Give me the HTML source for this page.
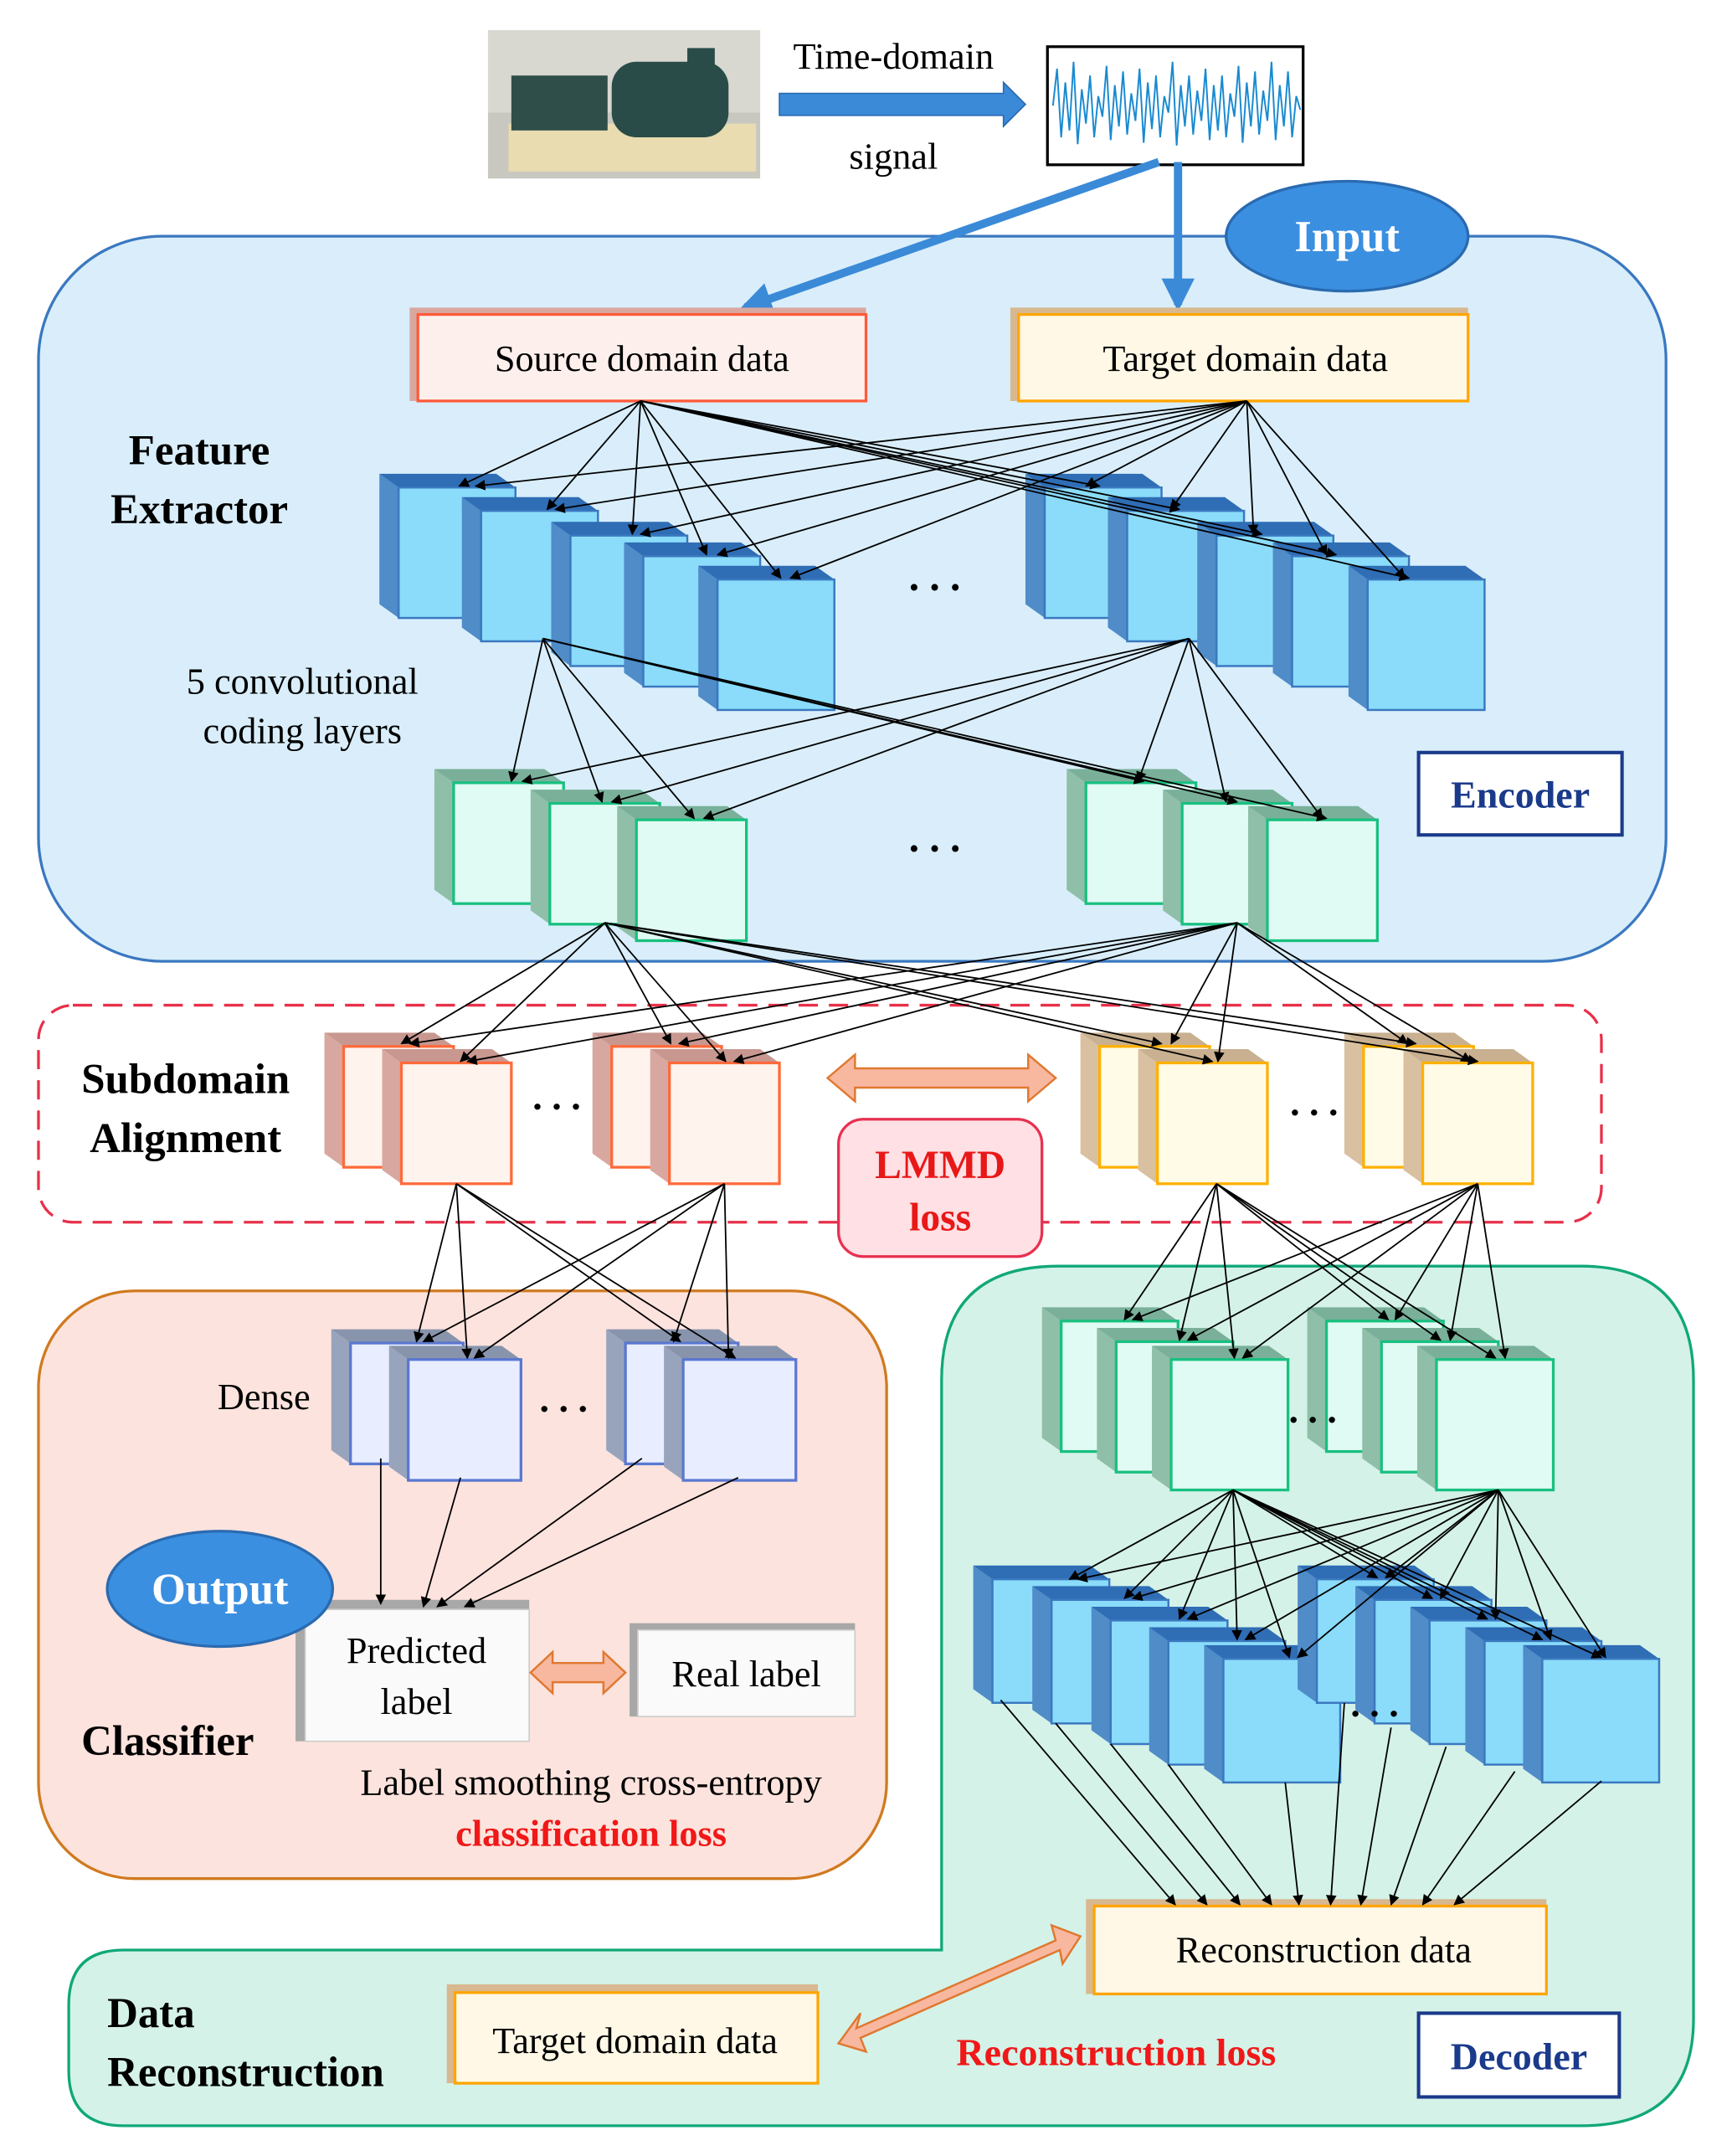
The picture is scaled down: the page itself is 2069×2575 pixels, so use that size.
<!DOCTYPE html>
<html><head><meta charset="utf-8">
<style>
html,body{margin:0;padding:0;background:#fff;}
svg{display:block;}
text{font-family:"Liberation Serif",serif;}
.b{font-weight:bold;}
</style></head>
<body>
<svg width="2069" height="2575" viewBox="0 0 1260 1570" preserveAspectRatio="none" xmlns="http://www.w3.org/2000/svg">
<defs>
<marker id="ah" viewBox="0 0 10 10" refX="9" refY="5" markerWidth="7" markerHeight="7" orient="auto"><path d="M0,0L10,5L0,10z" fill="#000"/></marker>
<marker id="bh" viewBox="0 0 10 10" refX="8" refY="5" markerWidth="4" markerHeight="4" orient="auto"><path d="M0,0L10,5L0,10z" fill="#3a8ad8"/></marker>
<symbol id="cb" overflow="visible"><polygon points="-14,-10 0,0 0,95 -14,85" fill="#4f8cc8"/><polygon points="-14,-10 71,-10 85,0 0,0" fill="#2f6db5"/><rect x="0" y="0" width="85" height="95" fill="#8adcfa" stroke="#3a78c0" stroke-width="1.5"/></symbol>
<symbol id="cb2" overflow="visible"><polygon points="-14,-10 0,0 0,90 -14,80" fill="#4f8cc8"/><polygon points="-14,-10 71,-10 85,0 0,0" fill="#2f6db5"/><rect x="0" y="0" width="85" height="90" fill="#8adcfa" stroke="#3a78c0" stroke-width="1.5"/></symbol>
<symbol id="cg" overflow="visible"><polygon points="-14,-10 0,0 0,88 -14,78" fill="#8fbfa8"/><polygon points="-14,-10 66,-10 80,0 0,0" fill="#7ab09a"/><rect x="0" y="0" width="80" height="88" fill="#e0fbf3" stroke="#18c080" stroke-width="2"/></symbol>
<symbol id="cg2" overflow="visible"><polygon points="-14,-10 0,0 0,95 -14,85" fill="#8fbfa8"/><polygon points="-14,-10 71,-10 85,0 0,0" fill="#7ab09a"/><rect x="0" y="0" width="85" height="95" fill="#e0fbf3" stroke="#18c080" stroke-width="2"/></symbol>
<symbol id="co" overflow="visible"><polygon points="-14,-10 0,0 0,88 -14,78" fill="#d8a8a0"/><polygon points="-14,-10 66,-10 80,0 0,0" fill="#c89890"/><rect x="0" y="0" width="80" height="88" fill="#fff3ee" stroke="#ff6a3a" stroke-width="2"/></symbol>
<symbol id="cy" overflow="visible"><polygon points="-14,-10 0,0 0,88 -14,78" fill="#d8c0a0"/><polygon points="-14,-10 66,-10 80,0 0,0" fill="#c8b090"/><rect x="0" y="0" width="80" height="88" fill="#fffbe6" stroke="#ffb000" stroke-width="2"/></symbol>
<symbol id="cd" overflow="visible"><polygon points="-14,-10 0,0 0,88 -14,78" fill="#98a4bc"/><polygon points="-14,-10 68,-10 82,0 0,0" fill="#8894ac"/><rect x="0" y="0" width="82" height="88" fill="#e8eeff" stroke="#5a78d0" stroke-width="2"/></symbol>
</defs>

<rect x="355" y="22" width="198" height="108" fill="#c8c8c0"/>
<rect x="355" y="22" width="198" height="60" fill="#d8d8d0"/>
<rect x="370" y="90" width="180" height="35" fill="#e8dcb0"/>
<rect x="372" y="55" width="70" height="40" fill="#2f4e4a"/>
<rect x="445" y="45" width="85" height="55" rx="18" fill="#2a4c48"/>
<rect x="500" y="35" width="20" height="15" fill="#2a4c48"/>
<text x="650" y="50" font-size="27" text-anchor="middle">Time-domain</text>
<text x="650" y="123" font-size="27" text-anchor="middle">signal</text>
<polygon points="567,68 730,68 730,60 746,76 730,92 730,84 567,84" fill="#3a8ad8" stroke="#2a6ab0" stroke-width="1"/>
<rect x="762" y="34" width="186" height="86" fill="#fff" stroke="#000" stroke-width="2"/>
<polyline fill="none" stroke="#1a8ad0" stroke-width="1.2" points="766,77 769,50 772,100 775,60 778,95 781,45 784,105 787,65 790,90 793,55 796,100 799,70 802,85 805,48 808,102 811,62 814,92 817,52 820,98 823,68 826,88 829,50 832,104 835,60 838,94 841,55 844,100 847,70 850,82 853,45 856,106 859,62 862,92 865,55 868,98 871,66 874,88 877,50 880,102 883,62 886,95 889,55 892,100 895,68 898,85 901,48 904,104 907,60 910,92 913,52 916,98 919,66 922,88 925,45 928,102 931,62 934,92 937,52 940,100 943,70 946,80"/>
<rect x="28" y="172" width="1184" height="528" rx="90" fill="#d9eefa" stroke="#3a78c0" stroke-width="2"/>
<line x1="843" y1="118" x2="542" y2="224" stroke="#3a8ad8" stroke-width="6" marker-end="url(#bh)"/>
<line x1="857" y1="118" x2="857" y2="222" stroke="#3a8ad8" stroke-width="6" marker-end="url(#bh)"/>
<ellipse cx="980" cy="172" rx="88" ry="40" fill="#3a8fe0" stroke="#2a6ab0" stroke-width="2"/>
<text x="980" y="183" font-size="32" text-anchor="middle" fill="#fff" class="b">Input</text>

<rect x="298" y="224" width="332" height="68" fill="#d8a8a0"/>
<rect x="304" y="229" width="326" height="63" fill="#fdf0ec" stroke="#ff5a3a" stroke-width="2"/>
<text x="467" y="270" font-size="27" text-anchor="middle">Source domain data</text>
<rect x="735" y="224" width="333" height="68" fill="#d8b890"/>
<rect x="741" y="229" width="327" height="63" fill="#fff8e6" stroke="#ffa500" stroke-width="2"/>
<text x="906" y="270" font-size="27" text-anchor="middle">Target  domain data</text>

<text x="145" y="338" font-size="31" text-anchor="middle" class="b">Feature</text>
<text x="145" y="381" font-size="31" text-anchor="middle" class="b">Extractor</text>
<text x="220" y="505" font-size="27" text-anchor="middle">5 convolutional</text>
<text x="220" y="541" font-size="27" text-anchor="middle">coding layers</text>

<use href="#cb" x="290" y="355"/><use href="#cb" x="350" y="372"/><use href="#cb" x="415" y="390"/><use href="#cb" x="468" y="405"/><use href="#cb" x="522" y="422"/>
<use href="#cb" x="760" y="355"/><use href="#cb" x="820" y="372"/><use href="#cb" x="885" y="390"/><use href="#cb" x="940" y="405"/><use href="#cb" x="995" y="422"/>
<text x="680" y="430" font-size="30" text-anchor="middle" class="b">. . .</text>
<use href="#cg" x="330" y="570"/><use href="#cg" x="400" y="585"/><use href="#cg" x="463" y="597"/>
<use href="#cg" x="790" y="570"/><use href="#cg" x="860" y="585"/><use href="#cg" x="922" y="597"/>
<text x="680" y="620" font-size="30" text-anchor="middle" class="b">. . .</text>
<rect x="1032" y="548" width="148" height="60" fill="#fff" stroke="#1a3a8a" stroke-width="2.5"/>
<text x="1106" y="588" font-size="28" text-anchor="middle" fill="#1a3a8a" class="b">Encoder</text>

<rect x="28" y="732" width="1137" height="158" rx="25" fill="none" stroke="#e8304a" stroke-width="2" stroke-dasharray="14,8"/>
<text x="135" y="796" font-size="31" text-anchor="middle" class="b">Subdomain</text>
<text x="135" y="839" font-size="31" text-anchor="middle" class="b">Alignment</text>
<use href="#co" x="250" y="762"/><use href="#co" x="292" y="774"/>
<use href="#co" x="445" y="762"/><use href="#co" x="487" y="774"/>
<use href="#cy" x="800" y="762"/><use href="#cy" x="842" y="774"/>
<use href="#cy" x="992" y="762"/><use href="#cy" x="1035" y="774"/>
<text x="405" y="808" font-size="28" text-anchor="middle" class="b">. . .</text>
<text x="956" y="812" font-size="28" text-anchor="middle" class="b">. . .</text>
<polygon points="602,785 622,768 622,778 748,778 748,768 768,785 748,802 748,792 622,792 622,802" fill="#f8b8a0" stroke="#e07830" stroke-width="1.5"/>
<rect x="610" y="815" width="148" height="100" rx="18" fill="#ffe0e4" stroke="#e83050" stroke-width="2"/>
<text x="684" y="858" font-size="29" text-anchor="middle" fill="#e81818" class="b">LMMD</text>
<text x="684" y="896" font-size="29" text-anchor="middle" fill="#e81818" class="b">loss</text>

<rect x="28" y="940" width="617" height="428" rx="70" fill="#fde3dd" stroke="#d07a20" stroke-width="2"/>
<use href="#cd" x="255" y="978"/><use href="#cd" x="297" y="990"/>
<use href="#cd" x="455" y="978"/><use href="#cd" x="497" y="990"/>
<text x="192" y="1026" font-size="27" text-anchor="middle">Dense</text>
<text x="410" y="1028" font-size="28" text-anchor="middle" class="b">. . .</text>
<rect x="215" y="1165" width="170" height="103" fill="#a8a8a8"/>
<rect x="222" y="1172" width="163" height="96" fill="#fafafa" stroke="#ccc"/>
<text x="303" y="1211" font-size="27" text-anchor="middle">Predicted</text>
<text x="303" y="1248" font-size="27" text-anchor="middle">label</text>
<ellipse cx="160" cy="1157" rx="82" ry="42" fill="#3a8fe0" stroke="#2a6ab0" stroke-width="2"/>
<text x="160" y="1168" font-size="32" text-anchor="middle" fill="#fff" class="b">Output</text>
<polygon points="386,1218 402,1203 402,1211 439,1211 439,1203 455,1218 439,1233 439,1225 402,1225 402,1233" fill="#f8b8a0" stroke="#e07830" stroke-width="1.5"/>
<rect x="458" y="1182" width="164" height="68" fill="#a8a8a8"/>
<rect x="464" y="1187" width="158" height="63" fill="#fafafa" stroke="#ccc"/>
<text x="543" y="1228" font-size="27" text-anchor="middle">Real label</text>
<text x="122" y="1278" font-size="31" text-anchor="middle" class="b">Classifier</text>
<text x="430" y="1307" font-size="27" text-anchor="middle">Label  smoothing cross-entropy</text>
<text x="430" y="1344" font-size="27" text-anchor="middle" fill="#f01818" class="b">classification loss</text>

<path d="M685,1420 L685,1005 Q685,922 770,922 L1150,922 Q1232,922 1232,1005 L1232,1470 Q1232,1548 1150,1548 L90,1548 Q50,1548 50,1508 L50,1460 Q50,1420 90,1420 Z" fill="#d4f2e8" stroke="#10a878" stroke-width="2"/>
<use href="#cg2" x="772" y="962"/><use href="#cg2" x="812" y="977"/><use href="#cg2" x="852" y="990"/>
<use href="#cg2" x="965" y="962"/><use href="#cg2" x="1005" y="977"/><use href="#cg2" x="1045" y="990"/>
<text x="955" y="1036" font-size="28" text-anchor="middle" class="b">. . .</text>
<use href="#cb2" x="722" y="1150"/><use href="#cb2" x="765" y="1165"/><use href="#cb2" x="808" y="1180"/><use href="#cb2" x="850" y="1195"/><use href="#cb2" x="890" y="1208"/>
<use href="#cb2" x="958" y="1150"/><use href="#cb2" x="1000" y="1165"/><use href="#cb2" x="1040" y="1180"/><use href="#cb2" x="1080" y="1195"/><use href="#cb2" x="1122" y="1208"/>
<text x="1000" y="1250" font-size="28" text-anchor="middle" class="b">. . .</text>
<rect x="790" y="1383" width="335" height="69" fill="#d8b890"/>
<rect x="796" y="1388" width="329" height="64" fill="#fff8e6" stroke="#ffa500" stroke-width="2"/>
<text x="963" y="1429" font-size="27" text-anchor="middle">Reconstruction data</text>
<rect x="325" y="1445" width="270" height="72" fill="#d8b890"/>
<rect x="331" y="1451" width="264" height="66" fill="#fff8e6" stroke="#ffa500" stroke-width="2"/>
<text x="462" y="1495" font-size="27" text-anchor="middle">Target  domain data</text>
<polygon points="610,1488 626,1466 623,1477 768,1413 765,1402 786,1410 773,1430 771,1420 626,1484 630,1494" fill="#f8b8a0" stroke="#e07830" stroke-width="1.5"/>
<text x="812" y="1504" font-size="28" text-anchor="middle" fill="#f01818" class="b">Reconstruction loss</text>
<rect x="1032" y="1466" width="146" height="61" fill="#fff" stroke="#1a3a8a" stroke-width="2.5"/>
<text x="1105" y="1507" font-size="28" text-anchor="middle" fill="#1a3a8a" class="b">Decoder</text>
<text x="78" y="1476" font-size="31" class="b">Data</text>
<text x="78" y="1519" font-size="31" class="b">Reconstruction</text>

<g stroke="#000" stroke-width="1.1" fill="none" marker-end="url(#ah)">
<line x1="466" y1="292" x2="334" y2="354"/><line x1="466" y1="292" x2="398" y2="371"/><line x1="466" y1="292" x2="460" y2="389"/><line x1="466" y1="292" x2="514" y2="404"/><line x1="466" y1="292" x2="568" y2="421"/>
<line x1="466" y1="292" x2="800" y2="354"/><line x1="466" y1="292" x2="858" y2="371"/><line x1="466" y1="292" x2="918" y2="389"/><line x1="466" y1="292" x2="972" y2="404"/><line x1="466" y1="292" x2="1025" y2="421"/>
<line x1="907" y1="292" x2="346" y2="354"/><line x1="907" y1="292" x2="404" y2="371"/><line x1="907" y1="292" x2="466" y2="389"/><line x1="907" y1="292" x2="522" y2="404"/><line x1="907" y1="292" x2="575" y2="421"/>
<line x1="907" y1="292" x2="790" y2="354"/><line x1="907" y1="292" x2="852" y2="371"/><line x1="907" y1="292" x2="912" y2="389"/><line x1="907" y1="292" x2="965" y2="404"/><line x1="907" y1="292" x2="1022" y2="421"/>
<line x1="395" y1="465" x2="372" y2="569"/><line x1="395" y1="465" x2="438" y2="584"/><line x1="395" y1="465" x2="505" y2="596"/><line x1="395" y1="465" x2="832" y2="569"/><line x1="395" y1="465" x2="900" y2="584"/><line x1="395" y1="465" x2="965" y2="596"/>
<line x1="865" y1="465" x2="380" y2="569"/><line x1="865" y1="465" x2="445" y2="584"/><line x1="865" y1="465" x2="512" y2="596"/><line x1="865" y1="465" x2="828" y2="569"/><line x1="865" y1="465" x2="892" y2="584"/><line x1="865" y1="465" x2="962" y2="596"/>
<line x1="440" y1="672" x2="292" y2="760"/><line x1="440" y1="672" x2="335" y2="773"/><line x1="440" y1="672" x2="488" y2="760"/><line x1="440" y1="672" x2="528" y2="773"/><line x1="440" y1="672" x2="845" y2="760"/><line x1="440" y1="672" x2="882" y2="773"/><line x1="440" y1="672" x2="1030" y2="760"/><line x1="440" y1="672" x2="1075" y2="773"/>
<line x1="900" y1="672" x2="298" y2="760"/><line x1="900" y1="672" x2="340" y2="773"/><line x1="900" y1="672" x2="494" y2="760"/><line x1="900" y1="672" x2="534" y2="773"/><line x1="900" y1="672" x2="852" y2="760"/><line x1="900" y1="672" x2="886" y2="773"/><line x1="900" y1="672" x2="1024" y2="760"/><line x1="900" y1="672" x2="1070" y2="773"/>
<line x1="332" y1="862" x2="303" y2="977"/><line x1="332" y1="862" x2="340" y2="989"/><line x1="332" y1="862" x2="495" y2="977"/><line x1="332" y1="862" x2="535" y2="989"/>
<line x1="527" y1="862" x2="308" y2="977"/><line x1="527" y1="862" x2="345" y2="989"/><line x1="527" y1="862" x2="490" y2="977"/><line x1="527" y1="862" x2="530" y2="989"/>
<line x1="885" y1="862" x2="818" y2="961"/><line x1="885" y1="862" x2="858" y2="976"/><line x1="885" y1="862" x2="898" y2="989"/><line x1="885" y1="862" x2="1010" y2="961"/><line x1="885" y1="862" x2="1048" y2="976"/><line x1="885" y1="862" x2="1088" y2="989"/>
<line x1="1075" y1="862" x2="824" y2="961"/><line x1="1075" y1="862" x2="864" y2="976"/><line x1="1075" y1="862" x2="904" y2="989"/><line x1="1075" y1="862" x2="1015" y2="961"/><line x1="1075" y1="862" x2="1055" y2="976"/><line x1="1075" y1="862" x2="1095" y2="989"/>
<line x1="277" y1="1062" x2="277" y2="1168"/><line x1="335" y1="1076" x2="308" y2="1170"/><line x1="467" y1="1062" x2="318" y2="1170"/><line x1="537" y1="1076" x2="338" y2="1170"/>
<line x1="897" y1="1085" x2="778" y2="1150"/><line x1="897" y1="1085" x2="818" y2="1164"/><line x1="897" y1="1085" x2="858" y2="1179"/><line x1="897" y1="1085" x2="900" y2="1194"/><line x1="897" y1="1085" x2="938" y2="1207"/><line x1="897" y1="1085" x2="1002" y2="1149"/><line x1="897" y1="1085" x2="1042" y2="1164"/><line x1="897" y1="1085" x2="1082" y2="1179"/><line x1="897" y1="1085" x2="1122" y2="1194"/><line x1="897" y1="1085" x2="1165" y2="1207"/>
<line x1="1090" y1="1085" x2="784" y2="1150"/><line x1="1090" y1="1085" x2="824" y2="1164"/><line x1="1090" y1="1085" x2="864" y2="1179"/><line x1="1090" y1="1085" x2="906" y2="1194"/><line x1="1090" y1="1085" x2="944" y2="1207"/><line x1="1090" y1="1085" x2="1008" y2="1149"/><line x1="1090" y1="1085" x2="1048" y2="1164"/><line x1="1090" y1="1085" x2="1088" y2="1179"/><line x1="1090" y1="1085" x2="1128" y2="1194"/><line x1="1090" y1="1085" x2="1168" y2="1207"/>
<line x1="728" y1="1238" x2="855" y2="1387"/><line x1="768" y1="1255" x2="878" y2="1387"/><line x1="808" y1="1270" x2="902" y2="1387"/><line x1="850" y1="1285" x2="925" y2="1387"/><line x1="935" y1="1298" x2="945" y2="1387"/><line x1="978" y1="1240" x2="968" y2="1387"/><line x1="1012" y1="1258" x2="990" y2="1387"/><line x1="1052" y1="1272" x2="1012" y2="1387"/><line x1="1102" y1="1290" x2="1035" y2="1387"/><line x1="1165" y1="1297" x2="1058" y2="1387"/>
</g>
</svg>
</body></html>
